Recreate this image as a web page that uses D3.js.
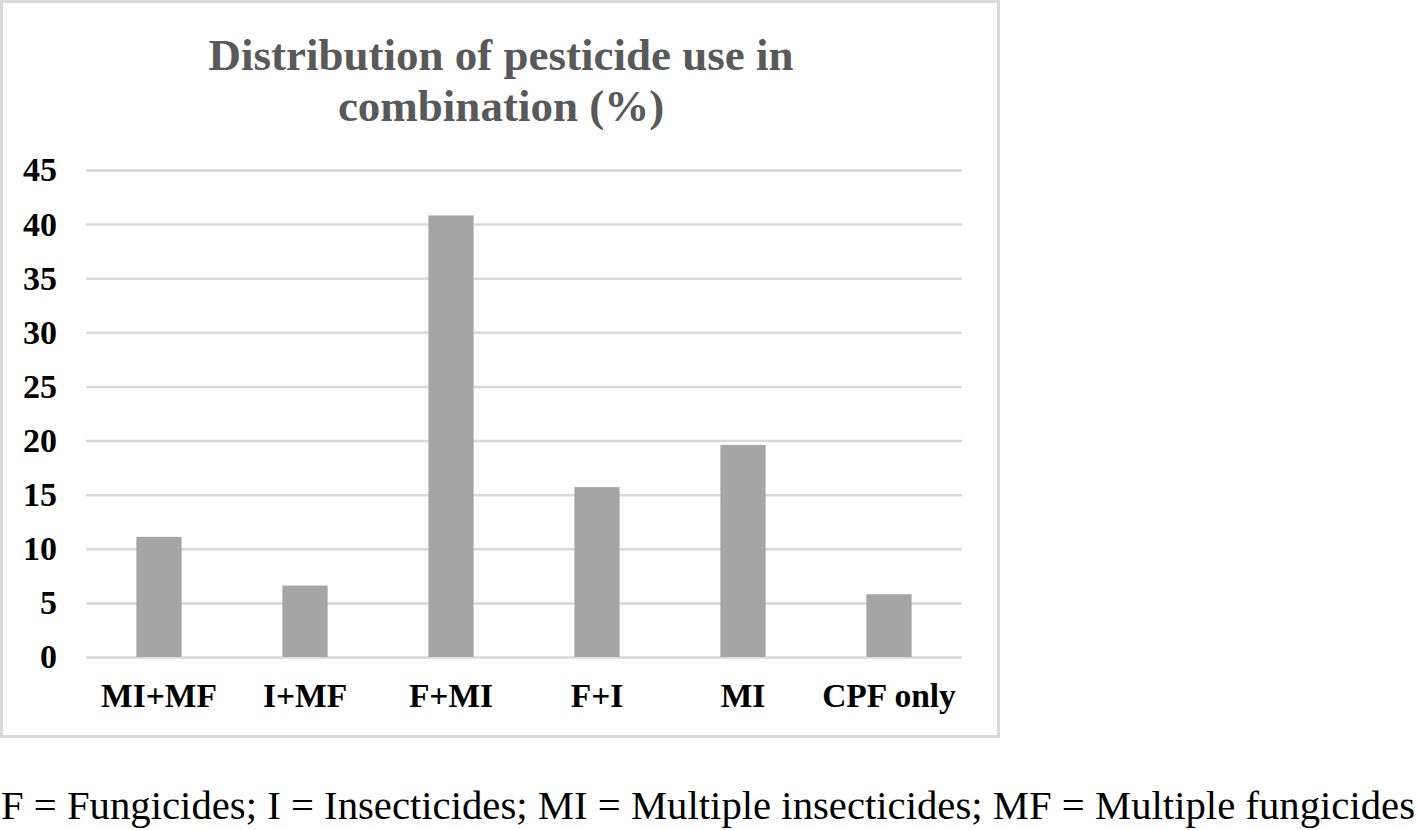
<!DOCTYPE html>
<html>
<head>
<meta charset="utf-8">
<script src="https://cdn.jsdelivr.net/npm/d3@7"></script>
<style>
  body { margin: 0; background: #fff; }
  text { font-family: "Liberation Serif", "Times New Roman", serif; }
</style>
</head>
<body>
<div id="chart"></div>
<script>
'use strict';

const categories = ['MI+MF', 'I+MF', 'F+MI', 'F+I', 'MI', 'CPF only'];
const values = [11.1, 6.6, 40.8, 15.7, 19.6, 5.8];
const yTicks = [0, 5, 10, 15, 20, 25, 30, 35, 40, 45];
const titleLines = ['Distribution of pesticide use in', 'combination (%)'];
const footnote = 'F = Fungicides; I = Insecticides; MI = Multiple insecticides; MF = Multiple fungicides';

const width = 1418, height = 830;
const plot = {left: 86, right: 962, top: 170, bottom: 657};

const svg = d3.select('#chart').append('svg')
    .attr('width', width)
    .attr('height', height);

// chart frame
svg.append('rect')
    .attr('x', 1.5).attr('y', 1.5)
    .attr('width', 997).attr('height', 735)
    .attr('fill', '#fff')
    .attr('stroke', '#d9d9d9')
    .attr('stroke-width', 3);

const x = d3.scaleBand()
    .domain(categories)
    .range([plot.left, plot.right])
    .paddingInner(0.69)
    .paddingOuter(0.345);

const y = d3.scaleLinear()
    .domain([0, 45])
    .range([plot.bottom, plot.top]);

// gridlines
svg.append('g')
    .attr('transform', `translate(${plot.left},0)`)
    .call(d3.axisLeft(y).tickValues(yTicks).tickSize(-(plot.right - plot.left)).tickFormat(''))
    .call(g => g.select('.domain').remove())
    .call(g => g.selectAll('line').attr('stroke', '#d9d9d9').attr('stroke-width', 2.5));

// bars
svg.append('g').selectAll('rect')
    .data(values)
    .join('rect')
    .attr('x', (d, i) => x(categories[i]))
    .attr('y', d => y(d))
    .attr('width', x.bandwidth())
    .attr('height', d => y(0) - y(d))
    .attr('fill', '#a5a5a5');

// y axis labels
svg.append('g')
    .attr('transform', 'translate(57,0)')
    .call(d3.axisLeft(y).tickValues(yTicks).tickSize(0).tickPadding(0))
    .call(g => g.select('.domain').remove())
    .call(g => g.selectAll('text')
        .attr('font-family', '"Liberation Serif", serif')
        .attr('font-size', 34)
        .attr('font-weight', 'bold')
        .attr('fill', '#000'));

// x axis labels
svg.append('g')
    .attr('transform', `translate(0,${plot.bottom})`)
    .call(d3.axisBottom(x).tickSize(0).tickPadding(0))
    .call(g => g.select('.domain').remove())
    .call(g => g.selectAll('text')
        .attr('dy', 0)
        .attr('y', 50)
        .attr('font-family', '"Liberation Serif", serif')
        .attr('font-size', 33.5)
        .attr('font-weight', 'bold')
        .attr('fill', '#000'));

// title
svg.append('g').selectAll('text')
    .data(titleLines)
    .join('text')
    .attr('x', 501)
    .attr('y', (d, i) => 70 + i * 51)
    .attr('text-anchor', 'middle')
    .attr('font-size', 45)
    .attr('font-weight', 'bold')
    .attr('fill', '#595959')
    .text(d => d);

// footnote
svg.append('text')
    .attr('x', 1)
    .attr('y', 819)
    .attr('font-size', 40.7)
    .attr('textLength', 1414)
    .attr('lengthAdjust', 'spacing')
    .attr('fill', '#000')
    .text(footnote);
</script>
</body>
</html>
